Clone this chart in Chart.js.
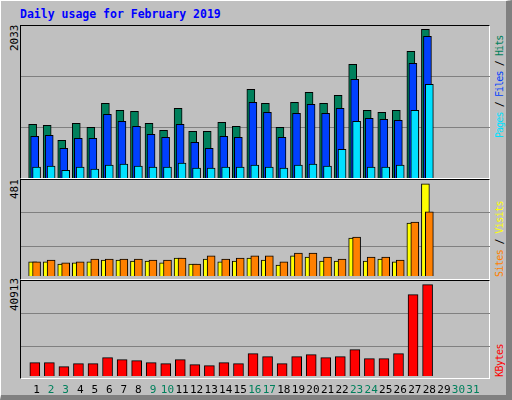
<!DOCTYPE html>
<html><head><meta charset="utf-8">
<script src="https://cdn.jsdelivr.net/npm/chart.js@4"></script>
<style>
body{margin:0;width:512px;height:400px;background:#c0c0c0;overflow:hidden;position:relative;font-family:"DejaVu Sans Mono",monospace}
.frame{position:absolute;left:20px;width:470px;border-top:1px solid #000;border-left:1px solid #000;border-bottom:1px solid #fff;border-right:1px solid #fff;box-sizing:border-box}
.c{position:absolute}
.rot{position:absolute;transform:rotate(-90deg);transform-origin:left top;white-space:nowrap;line-height:10px}
#title{position:absolute;left:20px;top:7px;font-weight:bold;font-size:11.5px;color:#0000ff}
#outer{position:absolute;left:0;top:0;width:512px;height:400px;box-sizing:border-box;border-right:6px solid #808080;border-bottom:5px solid #808080;border-left:1px solid #fff;border-top:1px solid #fff}
</style></head><body>
<div id="outer"></div>
<div id="title">Daily usage for February 2019</div>
<div class="frame" style="top:25px;height:154px"></div>
<div class="frame" style="top:179px;height:101px"></div>
<div class="frame" style="top:280px;height:99px"></div>
<div class="rot" style="left:10px;top:51px;font-size:11px">2033</div>
<div class="rot" style="left:10px;top:199px;font-size:11px">481</div>
<div class="rot" style="left:10px;top:311px;font-size:11px">40913</div>
<div class="rot" style="left:495px;top:138px;font-size:10px;letter-spacing:-0.9px"><span style="color:#00e0ff">Pages</span><span style="color:#000"> / </span><span style="color:#0040ff">Files</span><span style="color:#000"> / </span><span style="color:#00805c">Hits</span></div>
<div class="rot" style="left:495px;top:277px;font-size:10px;letter-spacing:-0.6px"><span style="color:#ff8000">Sites</span><span style="color:#000"> / </span><span style="color:#ffff00">Visits</span></div>
<div class="rot" style="left:495px;top:377px;font-size:10px;letter-spacing:-0.5px;color:#ff0000">KBytes</div>
<canvas id="c1" class="c" style="left:21px;top:26px;width:469px;height:152px"></canvas>
<canvas id="c2" class="c" style="left:21px;top:180px;width:469px;height:99px"></canvas>
<canvas id="c3" class="c" style="left:21px;top:281px;width:469px;height:118px"></canvas>
<script>
const days=[1,2,3,4,5,6,7,8,9,10,11,12,13,14,15,16,17,18,19,20,21,22,23,24,25,26,27,28,29,30,31];
const weekend=[2,3,9,10,16,17,23,24,30,31];
const hits=[718,704,504,731,678,999,905,892,731,637,932,624,624,744,691,1186,999,678,1012,1146,999,1106,1520,905,878,905,1694,1988];
const files=[557,571,397,530,530,851,758,691,584,544,718,477,397,557,544,1012,878,544,865,985,865,932,1320,798,785,771,1534,1895];
const pages=[147,160,103,147,120,174,187,160,147,147,201,134,134,147,147,174,147,134,174,187,160,383,758,147,147,174,905,1253];
const visits=[83,83,73,78,83,92,92,87,87,78,102,73,97,83,87,102,92,68,112,107,87,87,199,87,97,83,272,462];
const sites=[83,92,78,83,97,97,97,97,92,92,102,73,112,97,102,112,112,83,126,126,107,97,204,107,107,92,277,326];
const kbytes=[6821,6821,5150,6403,6403,8909,8074,7656,6821,6403,8074,5986,5568,6821,6403,10579,9326,6403,9326,10162,8909,9326,12250,8491,8491,10579,35218,39394];
const maxHits=2033, maxVisits=481, maxKB=40913;

Chart.defaults.animation=false;
Chart.defaults.responsive=false;
const pts=(arr,sh)=>arr.map((v,i)=>({x:days[i]+sh,y:v}));
const ds=(arr,sh,col,w,order,base)=>({data:pts(arr,sh),backgroundColor:col,borderColor:'#000',borderWidth:1,barThickness:w,order:order,grouped:false,base:base,borderSkipped:'bottom'});
function xaxis(show){const a={type:'linear',min:0.45,max:31.65,display:show,
  afterBuildTicks:a=>{a.ticks=days.map(d=>({value:d}));},
  grid:{display:false,drawTicks:false},border:{display:false},
  ticks:{padding:5,autoSkip:false,maxRotation:0,font:{family:'DejaVu Sans Mono',size:11},
   color:c=>weekend.includes(c.tick.value)?'#00805c':'#000',callback:v=>String(v)}};
  a.afterFit=show?(s=>{s.height=20;}):(s=>{s.height=0;});
  return a;}
function yaxis(max){return {min:0,max:max,afterBuildTicks:a=>{a.ticks=[1,2].map(k=>({value:max*k/3}));},
  afterFit:a=>{a.width=0;},ticks:{display:false},border:{display:false},grid:{color:'#808080',drawTicks:false,lineWidth:1}};}
function mk(id,w,h,datasets,max,showX){
  const cv=document.getElementById(id);cv.width=w;cv.height=h;
  new Chart(cv,{type:'bar',data:{datasets:datasets},options:{responsive:false,layout:{padding:0},
   plugins:{legend:{display:false},tooltip:{enabled:false}},scales:{x:xaxis(showX),y:yaxis(max)}}});
}
mk('c1',469,152,[ds(hits,-0.27,'#00805c',8,3,0),ds(files,-0.13,'#0040ff',8,2,0),ds(pages,0,'#00e0ff',8,1,0)],maxHits,false);
mk('c2',469,99,[ds(visits,-0.27,'#ffff00',8,2,15),ds(sites,0,'#ff8000',8,1,15)],maxVisits,false);
mk('c3',469,118,[ds(kbytes,-0.12,'#ff0000',10,1,1253)],maxKB,true);
</script></body></html>
